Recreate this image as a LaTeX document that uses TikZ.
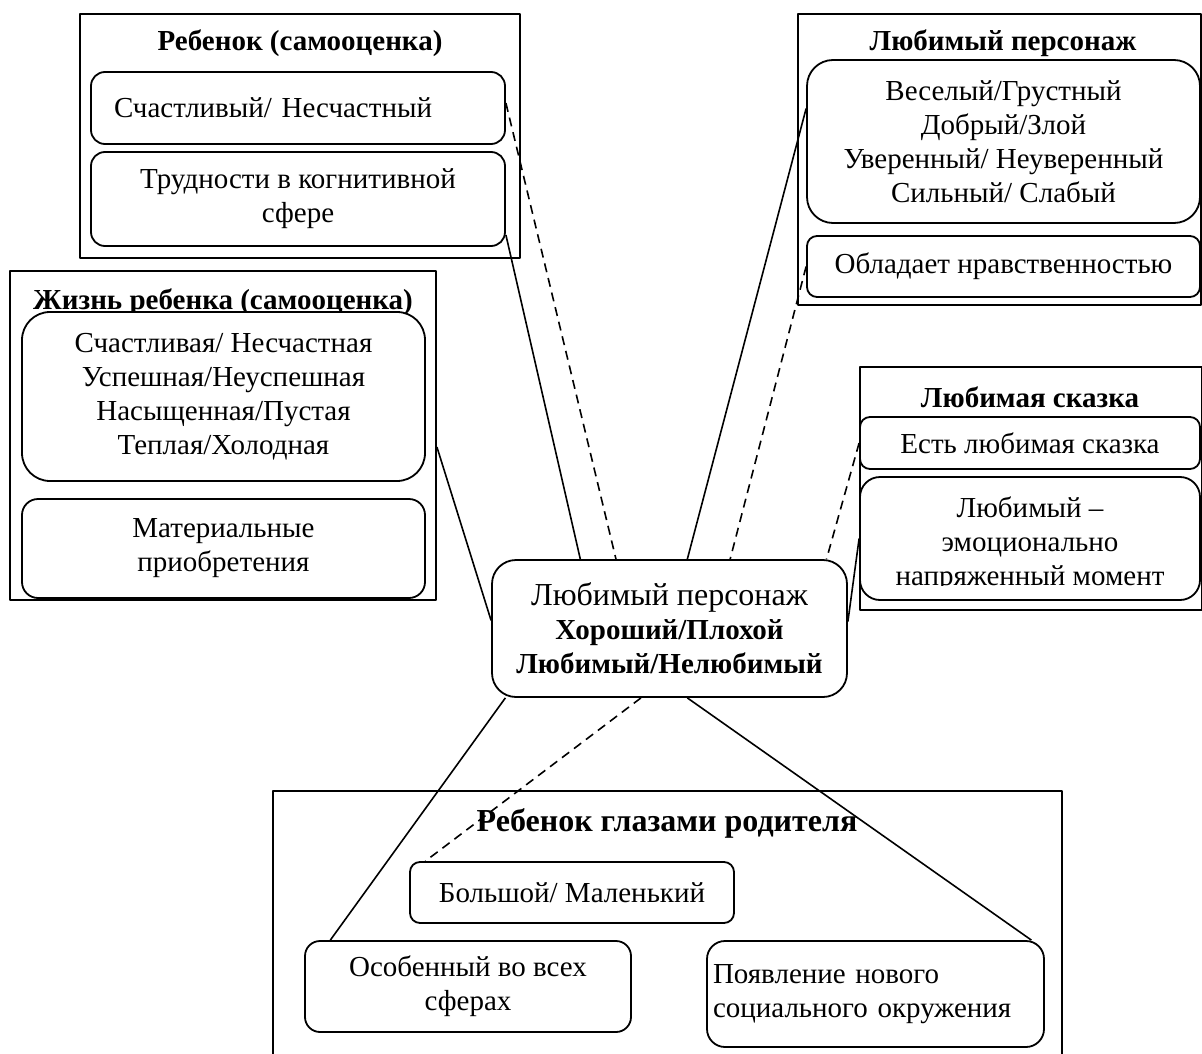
\documentclass[tikz,border=0pt]{standalone}
\usepackage{fontspec}
\setmainfont{Liberation Serif}
\usetikzlibrary{calc}
\tikzset{
  frame/.style={draw,line width=1.9pt,inner sep=0pt},
  inbox/.style={draw,line width=1.8pt,rounded corners=14pt,fill=white,inner sep=0pt,align=center},
  boxtitle/.style={font=\fontsize{29}{34}\selectfont\bfseries,inner sep=0pt},
  link/.style={line width=1.6pt},
  dlink/.style={line width=1.6pt,dash pattern=on 9pt off 6pt}
}
\begin{document}
\begin{tikzpicture}[x=1pt,y=-1pt,line join=round,font=\fontsize{29}{34}\selectfont]
\clip (0,0) rectangle (1202,1054);
\fill[white] (0,0) rectangle (1202,1054);
% ребенок (самооценка)
\node[frame,minimum width=440pt,minimum height=244pt] (selfbox) at (300,136) {};
\node[boxtitle] (selftitle) at (300,43) {Ребенок (самооценка)};
\node[inbox,minimum width=414pt,minimum height=72pt,text width=368pt,align=left] (a1) at (298,108) {Счастливый/ Несчастный};
\node[inbox,minimum width=414pt,minimum height=94pt] (a2) at (298,199) {Трудности в когнитивной\\сфере};
% любимый персонаж
\node[frame,minimum width=403pt,minimum height=291pt] (herobox) at (999.5,159.5) {};
\node[boxtitle] (herotitle) at (1003,43) {Любимый персонаж};
\node[inbox,rounded corners=26pt,minimum width=393pt,minimum height=163pt] (b1) at (1003.5,141.5) {Веселый/Грустный\\Добрый/Злой\\Уверенный/ Неуверенный\\Сильный/ Слабый};
\node[inbox,rounded corners=10pt,minimum width=393pt,minimum height=61pt] (b2) at (1003.5,266.5) {Обладает нравственностью};
% жизнь ребенка
\node[frame,minimum width=426pt,minimum height=329pt] (lifebox) at (223,435.5) {};
\node[boxtitle] (lifetitle) at (223,302) {Жизнь ребенка (самооценка)};
\node[inbox,rounded corners=28pt,minimum width=403pt,minimum height=169pt] (c1) at (223.5,396.5) {Счастливая/ Несчастная\\Успешная/Неуспешная\\Насыщенная/Пустая\\Теплая/Холодная};
\node[inbox,rounded corners=16pt,minimum width=403pt,minimum height=99pt] (c2) at (223.5,548.5) {Материальные\\приобретения};
% любимая сказка
\node[frame,minimum width=342pt,minimum height=243pt] (talebox) at (1031,488.5) {};
\node[boxtitle] (taletitle) at (1030,397) {Любимая сказка};
\node[inbox,rounded corners=10pt,minimum width=340pt,minimum height=52pt] (d1) at (1030,443) {Есть любимая сказка};
\node[inbox,rounded corners=20pt,minimum width=340pt,minimum height=123pt] (d2) at (1030,538.5) {};
\begin{scope}
\clip ($(d2.north west)+(4,4)$) rectangle ($(d2.south east)+(-4,-15)$);
\node[align=center,inner sep=0pt] (d2text) at (1030,544) {Любимый –\\эмоционально\\напряженный момент};
\end{scope}
% центр
\node[inbox,rounded corners=24pt,minimum width=355pt,minimum height=137pt] (hero) at (669.5,628.5) {{\fontsize{32}{35}\selectfont Любимый персонаж}\\\textbf{Хороший/Плохой}\\\textbf{Любимый/Нелюбимый}};
% ребенок глазами родителя
\node[frame,minimum width=789pt,minimum height=320pt] (parentbox) at (667.5,951) {};
\node[boxtitle,font=\fontsize{32}{36}\selectfont\bfseries] (parenttitle) at (667,823) {Ребенок глазами родителя};
\node[inbox,rounded corners=10pt,minimum width=324pt,minimum height=61pt] (e1) at (572,892.5) {Большой/ Маленький};
\node[inbox,rounded corners=15pt,minimum width=326pt,minimum height=91pt] (e2) at (468,986.5) {Особенный во всех\\сферах};
\node[inbox,rounded corners=18pt,minimum width=337pt,minimum height=106pt,text width=325pt,align=left] (e3) at (875.5,994) {Появление нового\\социального окружения};
% связи
\draw[link] ($(a2.east)!0.75!(a2.south east)$) -- ($(hero.north west)!0.25!(hero.north east)$);
\draw[dlink] ($(a1.east)+(0,-5)$) -- ($(hero.north west)!0.35!(hero.north east)$);
\draw[link] ($(b1.north west)!0.3!(b1.south west)$) -- ($(hero.north west)!0.55!(hero.north east)$);
\draw[dlink] (b2.west) -- ($(hero.north west)!0.67!(hero.north east)$);
\draw[dlink] (d1.west) -- ($(hero.north west)!0.94!(hero.north east)$);
\draw[link] (d2.west) -- ($(hero.east)+(0,-7)$);
\draw[link] ($(lifebox.north east)!0.535!(lifebox.south east)$) -- ($(hero.west)+(0,-8)$);
\draw[link] ($(hero.south west)!0.04!(hero.south east)$) -- ($(e2.north west)!0.08!(e2.north east)$);
\draw[dlink] ($(hero.south west)!0.42!(hero.south east)$) -- ($(e1.north west)!0.05!(e1.north east)$);
\draw[link] ($(hero.south west)!0.55!(hero.south east)$) -- ($(e3.north west)!0.96!(e3.north east)$);
\end{tikzpicture}
\end{document}
